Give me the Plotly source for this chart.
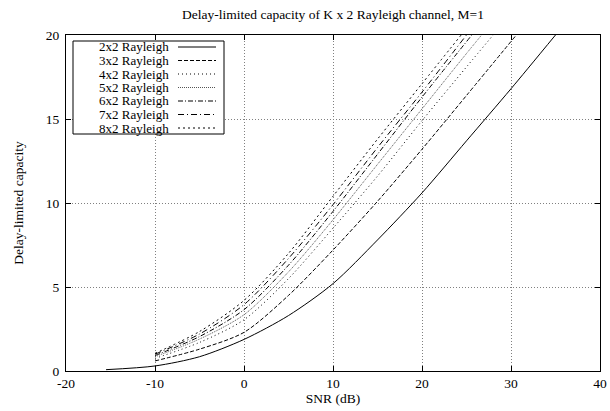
import plotly.graph_objects as go

# ---- data ----
series_names = ["2x2 Rayleigh", "3x2 Rayleigh", "4x2 Rayleigh", "5x2 Rayleigh",
                "6x2 Rayleigh", "7x2 Rayleigh", "8x2 Rayleigh"]

snr_2x2 = [-15.5, -10, -5, 0, 5, 10, 15, 20, 25, 30, 35]
cap_2x2 = [0.08, 0.3, 0.85, 1.88, 3.3, 5.2, 7.8, 10.6, 13.7, 16.8, 20.0]

snr_3x2 = [-10, -5, 0, 5, 10, 15, 20, 25, 30.6]
cap_3x2 = [0.6, 1.3, 2.3, 4.5, 7.2, 10.1, 13.2, 16.4, 20.0]

snr_4x2 = [-10, -5, 0, 5, 10, 15, 20, 25, 28.0]
cap_4x2 = [0.75, 1.7, 3.05, 5.5, 8.5, 11.6, 14.9, 18.1, 20.0]

snr_5x2 = [-10, -5, 0, 5, 10, 15, 20, 25, 26.7]
cap_5x2 = [0.85, 1.9, 3.35, 5.9, 9.0, 12.3, 15.6, 18.9, 20.0]

snr_6x2 = [-10, -5, 0, 5, 10, 15, 20, 25.6]
cap_6x2 = [0.92, 2.05, 3.65, 6.3, 9.5, 12.9, 16.3, 20.0]

snr_7x2 = [-10, -5, 0, 5, 10, 15, 20, 25.0]
cap_7x2 = [1.0, 2.2, 3.95, 6.7, 9.9, 13.3, 16.6, 20.0]

snr_8x2 = [-10, -5, 0, 5, 10, 15, 20, 24.4]
cap_8x2 = [1.05, 2.35, 4.2, 7.0, 10.4, 13.8, 17.1, 20.0]

x_ticks = [-20, -10, 0, 10, 20, 30, 40]
x_tick_labels = ["-20", "-10", "0", "10", "20", "30", "40"]
y_ticks = [0, 5, 10, 15, 20]
y_tick_labels = ["0", "5", "10", "15", "20"]

title_text = "Delay-limited capacity of K x 2 Rayleigh channel, M=1"
x_title = "SNR (dB)"
y_title = "Delay-limited capacity"

# ---- styles ----
xs = [snr_2x2, snr_3x2, snr_4x2, snr_5x2, snr_6x2, snr_7x2, snr_8x2]
ys = [cap_2x2, cap_3x2, cap_4x2, cap_5x2, cap_6x2, cap_7x2, cap_8x2]
dashes = ["solid", "4px,2px", "1px,3px", "1px,1px",
          "5px,2px,1px,2px", "6px,3px,1px,3px", "2px,3px"]
colors = ["black", "black", "black", "#555555", "black", "black", "black"]

FONT = "Liberation Serif, Times New Roman, serif"
FS = 13.5
FS_KEY = 13

W, H = 610, 411
# plot area in page pixels
L, R, T, B = 66, 600, 35, 371

fig = go.Figure()
for name, x, y, d, c in zip(series_names, xs, ys, dashes, colors):
    fig.add_trace(go.Scatter(x=x, y=y, mode="lines", name=name,
                             line=dict(color=c, width=1, dash=d, shape="spline", smoothing=0.8),
                             showlegend=False, hoverinfo="skip"))

def px2x(px):
    return (px - L) / (R - L)
def py2y(py):
    return (B - py) / (B - T)

shapes = [dict(type="rect", xref="paper", yref="paper",
               x0=px2x(73), x1=px2x(224), y0=py2y(134), y1=py2y(41),
               line=dict(color="black", width=1), fillcolor="white", layer="above")]
annotations = []
for i, (name, d, c) in enumerate(zip(series_names, dashes, colors)):
    yy = py2y(47 + 13.5 * i)
    annotations.append(dict(x=px2x(170), y=yy, xref="paper", yref="paper",
                            text=name, showarrow=False, xanchor="right", yanchor="middle",
                            borderpad=0,
                            font=dict(family=FONT, size=FS_KEY, color="black")))
    shapes.append(dict(type="line", xref="paper", yref="paper",
                       x0=px2x(178), x1=px2x(216), y0=yy, y1=yy,
                       line=dict(color=c, width=1, dash=d), layer="above"))

axis_common = dict(showline=True, linecolor="black", linewidth=1, mirror="allticks",
                   ticks="inside", ticklen=5, tickcolor="black",
                   showgrid=True, gridcolor="#808080", gridwidth=1, griddash="1px,2px",
                   zeroline=False, tickfont=dict(family=FONT, size=FS, color="black"))

fig.update_layout(
    width=W, height=H,
    margin=dict(l=L, r=W - R, t=T, b=H - B, autoexpand=False),
    plot_bgcolor="white", paper_bgcolor="white",
    title=dict(text=title_text, x=(L + R) / 2 / W, xanchor="center", y=1 - 14 / H,
               yanchor="middle", font=dict(family=FONT, size=FS, color="black")),
    xaxis=dict(range=[-20, 40], tickvals=x_ticks, ticktext=x_tick_labels,
               ticklabeloverflow="allow",
               title=dict(text=x_title, font=dict(family=FONT, size=FS, color="black"), standoff=0),
               **axis_common),
    yaxis=dict(range=[0, 20], tickvals=y_ticks, ticktext=y_tick_labels,
               ticklabelstandoff=3,
               title=dict(text=y_title, font=dict(family=FONT, size=FS, color="black"), standoff=19),
               **axis_common),
    shapes=shapes, annotations=annotations,
    showlegend=False,
)

fig.write_html("out.html", config={"displayModeBar": False},
               post_script="document.body.style.margin='0';document.body.style.overflow='hidden';")
